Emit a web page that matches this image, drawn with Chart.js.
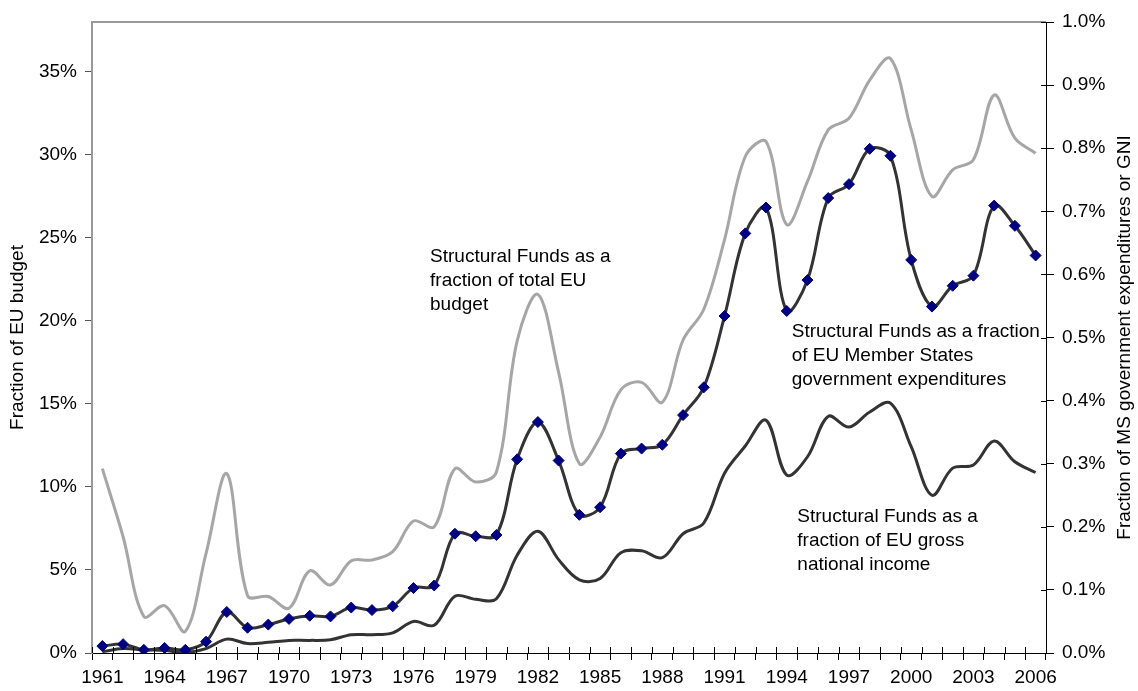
<!DOCTYPE html>
<html>
<head>
<meta charset="utf-8">
<script src="https://cdn.jsdelivr.net/npm/chart.js@4.4.1/dist/chart.umd.min.js"></script>
<style>
  html, body { margin: 0; padding: 0; background: #fff; }
</style>
</head>
<body>
<canvas id="chart" width="1138" height="691"></canvas>
<script>
const years = [1961, 1962, 1963, 1964, 1965, 1966, 1967, 1968, 1969, 1970,
    1971, 1972, 1973, 1974, 1975, 1976, 1977, 1978, 1979, 1980,
    1981, 1982, 1983, 1984, 1985, 1986, 1987, 1988, 1989, 1990,
    1991, 1992, 1993, 1994, 1995, 1996, 1997, 1998, 1999, 2000,
    2001, 2002, 2003, 2004, 2005, 2006];

// % of total EU budget (left axis)
const budgetShare = [11.1, 7.0, 2.2, 2.85, 1.3, 6.0, 10.8, 3.45, 3.4, 2.7,
    4.95, 4.1, 5.55, 5.6, 6.1, 7.95, 7.6, 11.1, 10.3, 10.9,
    18.8, 21.6, 16.9, 11.4, 13.0, 15.85, 16.3, 15.1, 18.85, 20.7,
    24.9, 29.9, 30.8, 25.8, 28.4, 31.5, 32.2, 34.5, 35.8, 31.5,
    27.5, 29.1, 29.7, 33.6, 31.0, 30.1];

// % of member states government expenditures (right axis)
const govShare = [0.011, 0.014, 0.005, 0.008, 0.005, 0.018, 0.065, 0.040, 0.045, 0.054,
    0.059, 0.058, 0.072, 0.068, 0.074, 0.103, 0.107, 0.189, 0.185, 0.187,
    0.307, 0.366, 0.305, 0.219, 0.231, 0.316, 0.324, 0.330, 0.377, 0.421,
    0.534, 0.665, 0.706, 0.542, 0.591, 0.721, 0.743, 0.799, 0.788, 0.623,
    0.549, 0.582, 0.598, 0.709, 0.677, 0.630];

// % of EU gross national income (right axis)
const gniShare = [0.002, 0.007, 0.005, 0.004, 0.001, 0.007, 0.022, 0.015, 0.017, 0.020,
    0.020, 0.021, 0.029, 0.029, 0.032, 0.050, 0.044, 0.090, 0.085, 0.086,
    0.155, 0.193, 0.148, 0.116, 0.118, 0.159, 0.162, 0.151, 0.189, 0.206,
    0.285, 0.328, 0.369, 0.282, 0.311, 0.375, 0.358, 0.382, 0.396, 0.327,
    0.250, 0.293, 0.298, 0.336, 0.303, 0.286];

const leftTitle = 'Fraction of EU budget';
const rightTitle = 'Fraction of MS government expenditures or GNI';

// text notes, placed by category index and left-axis value of the first line
const notes = [
    { idx: 15.8, val: 23.85, lines: ['Structural Funds as a', 'fraction of total EU', 'budget'] },
    { idx: 33.24, val: 19.35, lines: ['Structural Funds as a fraction', 'of EU Member States', 'government expenditures'] },
    { idx: 33.51, val: 8.21, lines: ['Structural Funds as a', 'fraction of EU gross', 'national income'] }
];

const FONT = "'Liberation Sans', Arial, sans-serif";
const FONT_SIZE = 19;
Chart.defaults.font.family = FONT;
Chart.defaults.font.size = FONT_SIZE;
Chart.defaults.color = '#000';

const extras = {
    id: 'extras',
    afterDraw(chart) {
        const { ctx, chartArea: a, scales } = chart;
        ctx.save();

        // grey frame along the top
        ctx.strokeStyle = '#999';
        ctx.lineWidth = 2;
        ctx.beginPath();
        ctx.moveTo(a.left - 1, a.top);
        ctx.lineTo(a.right, a.top);
        ctx.stroke();

        // inner half of the cross tick marks
        ctx.strokeStyle = '#000';
        ctx.lineWidth = 1;
        ctx.beginPath();
        for (let i = 0; i <= years.length; i++) {
            const px = Math.round(scales.x.getPixelForValue(i - 0.5)) + 0.5;
            ctx.moveTo(px, a.bottom);
            ctx.lineTo(px, a.bottom - 6);
        }
        scales.y1.ticks.forEach(t => {
            const py = Math.round(scales.y1.getPixelForValue(t.value)) + 0.5;
            ctx.moveTo(a.right - 5, py);
            ctx.lineTo(a.right, py);
        });
        ctx.stroke();

        // axis titles, both reading upwards
        ctx.fillStyle = '#000';
        ctx.font = FONT_SIZE + 'px ' + FONT;
        ctx.textAlign = 'center';
        ctx.textBaseline = 'middle';
        const midY = (a.top + a.bottom) / 2;
        [[18, leftTitle], [chart.width - 13, rightTitle]].forEach(([tx, text]) => {
            ctx.save();
            ctx.translate(tx, midY);
            ctx.rotate(-Math.PI / 2);
            ctx.fillText(text, 0, 0);
            ctx.restore();
        });

        // notes
        ctx.textAlign = 'left';
        notes.forEach(n => {
            const nx = scales.x.getPixelForValue(n.idx);
            const ny = scales.y.getPixelForValue(n.val);
            n.lines.forEach((line, i) => ctx.fillText(line, nx, ny + i * 24));
        });

        ctx.restore();
    }
};

const ctx = document.getElementById('chart').getContext('2d');

new Chart(ctx, {
    type: 'line',
    data: {
        labels: years,
        datasets: [
            {
                data: govShare,
                yAxisID: 'y1',
                borderColor: '#333',
                borderWidth: 3,
                pointStyle: 'rectRot',
                pointRadius: 5.5,
                pointBorderWidth: 1,
                pointBackgroundColor: '#000080',
                pointBorderColor: '#000080',
                tension: 0.35
            },
            {
                data: gniShare,
                yAxisID: 'y1',
                borderColor: '#333',
                borderWidth: 3,
                pointRadius: 0,
                tension: 0.35
            },
            {
                data: budgetShare,
                yAxisID: 'y',
                borderColor: '#a6a6a6',
                borderWidth: 3,
                pointRadius: 0,
                tension: 0.35
            }
        ]
    },
    options: {
        responsive: false,
        animation: false,
        layout: { padding: { top: 22, left: 0, right: 0, bottom: 0 } },
        plugins: {
            legend: { display: false },
            tooltip: { enabled: false }
        },
        scales: {
            x: {
                offset: true,
                afterFit: s => { s.height = 38; },
                grid: { offset: true, drawOnChartArea: false, tickLength: 7, color: '#000' },
                border: { color: '#000', width: 1 },
                ticks: {
                    autoSkip: false,
                    maxRotation: 0,
                    minRotation: 0,
                    padding: 6,
                    callback: (v, i) => (i % 3 === 0 ? years[i] : '')
                }
            },
            y: {
                position: 'left',
                min: 0,
                max: 38,
                afterFit: s => { s.width = 92; },
                afterBuildTicks: s => { s.ticks = s.ticks.filter(t => t.value % 5 === 0); },
                grid: { drawOnChartArea: false, tickLength: 7, color: '#555' },
                border: { color: '#999', width: 2 },
                ticks: { stepSize: 5, padding: 8, callback: v => v + '%' }
            },
            y1: {
                position: 'right',
                min: 0,
                max: 1,
                afterFit: s => { s.width = 92; },
                grid: { drawOnChartArea: false, tickLength: 8, color: '#000' },
                border: { color: '#000', width: 1 },
                ticks: { stepSize: 0.1, padding: 8, callback: v => v.toFixed(1) + '%' }
            }
        }
    },
    plugins: [extras]
});
</script>
</body>
</html>
